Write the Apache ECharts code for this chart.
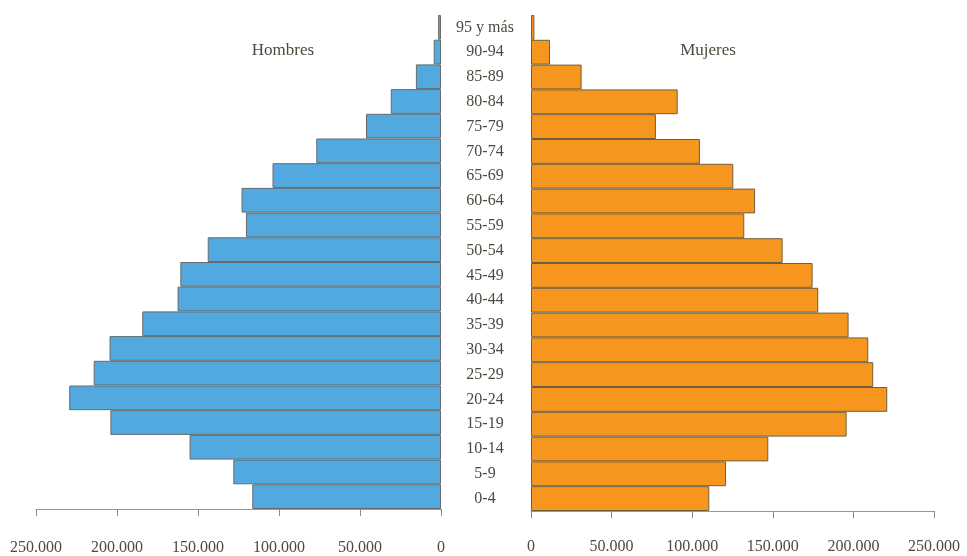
<!DOCTYPE html>
<html>
<head>
<meta charset="utf-8">
<script src="https://cdn.jsdelivr.net/npm/echarts@6/dist/echarts.min.js"></script>
<style>
html,body{margin:0;padding:0;background:#fff;}
#chart{width:967px;height:556px;}
</style>
</head>
<body>
<div id="chart"></div>
<script>
const categories = ['0-4','5-9','10-14','15-19','20-24','25-29','30-34','35-39','40-44','45-49','50-54','55-59','60-64','65-69','70-74','75-79','80-84','85-89','90-94','95 y más'];
const hombres = [116500,128200,155200,204100,229500,214400,204600,184400,162600,160900,144000,120400,123100,104000,77000,46300,31000,15500,4500,1800];
const mujeres = [110600,121000,147200,195800,221000,212300,209200,197000,178200,174700,156100,132300,139000,125500,104800,77500,91000,31400,11800,2100];
const xTicks = [0,50000,100000,150000,200000,250000];
const leftTitle = 'Hombres';
const rightTitle = 'Mujeres';

const FONT = '"Liberation Serif", "DejaVu Serif", serif';
const TEXT = '#4a4b3e';
const fmt = v => String(v).replace(/\B(?=(\d{3})+(?!\d))/g, '.');

const chart = echarts.init(document.getElementById('chart'));
const xBase = {
  type: 'value', min: xTicks[0], max: xTicks[xTicks.length-1], interval: xTicks[1]-xTicks[0],
  splitLine: {show:false},
  axisLine: {show:true, lineStyle:{color:'#9a9a90', width:1}},
  axisTick: {show:true, length:7, lineStyle:{color:'#8a8a80'}},
  axisLabel: {formatter: fmt, fontFamily: FONT, fontSize: 16, color: TEXT}
};
chart.setOption({
  animation: false,
  textStyle: {fontFamily: FONT},
  title: [
    {text: leftTitle, left: 278, top: 37, textAlign: 'center', textStyle:{fontFamily: FONT, fontSize:17, fontWeight:'normal', color: TEXT}},
    {text: rightTitle, left: 703, top: 37, textAlign: 'center', textStyle:{fontFamily: FONT, fontSize:17, fontWeight:'normal', color: TEXT}}
  ],
  grid: [
    {left: 36, right: 967-441, top: 15, bottom: 43},
    {left: 531, right: 33, top: 15, bottom: 45}
  ],
  xAxis: [
    Object.assign({}, xBase, {gridIndex:0, inverse:true, axisLabel: Object.assign({}, xBase.axisLabel, {margin: 31})}),
    Object.assign({}, xBase, {gridIndex:1, axisLabel: Object.assign({}, xBase.axisLabel, {margin: 28})})
  ],
  yAxis: [
    {type:'category', gridIndex:0, data: categories, position:'right',
     axisLine:{show:false}, axisTick:{show:false}, axisLabel:{show:false}},
    {type:'category', gridIndex:1, data: categories, position:'left',
     axisLine:{show:false}, axisTick:{show:false},
     axisLabel:{show:true, align:'center', margin:46, padding:[3,0,0,0], fontFamily: FONT, fontSize:16, color: TEXT}}
  ],
  series: [
    {type:'bar', xAxisIndex:0, yAxisIndex:0, data: hombres, barWidth:'100%', barCategoryGap:0,
     itemStyle:{color:'#52a9e0', borderColor:'#666b6c', borderWidth:1}},
    {type:'bar', xAxisIndex:1, yAxisIndex:1, data: mujeres, barWidth:'100%', barCategoryGap:0,
     itemStyle:{color:'#f7961f', borderColor:'#70603a', borderWidth:1}}
  ]
});
</script>
</body>
</html>
